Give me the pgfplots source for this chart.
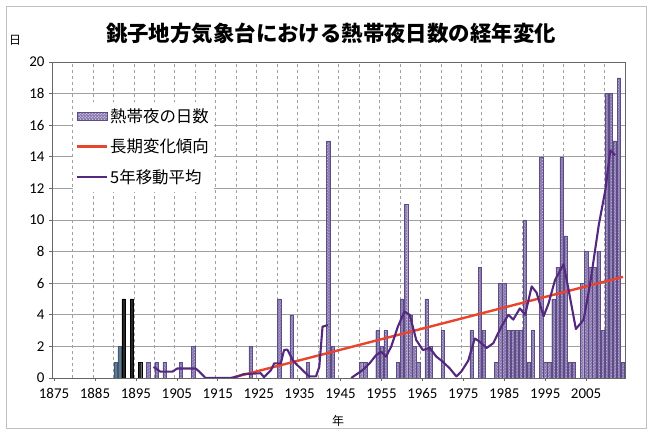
\documentclass[border=0pt]{standalone}
\usepackage{fontspec}
\setmainfont{Carlito}
\newfontfamily\jp{Noto Sans CJK JP}
\usepackage{pgfplots}
\usepackage{pgfplotstable}
\pgfplotsset{compat=1.18}
\usetikzlibrary{patterns}
\definecolor{barfill}{HTML}{8878AE}
\definecolor{baredge}{HTML}{5E4C86}
\definecolor{trend}{HTML}{E8452C}
\definecolor{mavg}{HTML}{55287F}
\definecolor{gridc}{HTML}{A0A0A0}
\definecolor{oldblue}{HTML}{5F7C96}

\pgfplotsset{
  lineleg/.style={legend image code/.code={\draw[##1] (0bp,0bp) -- (30bp,0bp);}},
  barleg/.style={legend image code/.code={\fill[barfill] (0bp,-4bp) rectangle (30bp,4bp);
     \fill[pattern=crosshatch dots, pattern color=white!60!barfill] (0bp,-4bp) rectangle (30bp,4bp);}},
}

\pgfplotstableread{
year val
1898 1
1900 1
1902 1
1906 1
1909 2
1923 2
1930 5
1933 4
1937 1
1942 15
1943 2
1950 1
1951 1
1954 3
1955 2
1956 3
1959 1
1960 5
1961 11
1962 4
1963 2
1964 1
1966 5
1967 2
1970 3
1977 3
1979 7
1980 3
1983 1
1984 6
1985 6
1986 3
1987 3
1988 3
1989 3
1990 10
1991 1
1992 3
1994 14
1995 1
1996 1
1997 5
1998 7
1999 14
2000 9
2001 1
2002 1
2004 6
2005 8
2006 7
2007 7
2008 8
2009 3
2010 18
2011 18
2012 15
2013 19
2014 1
}\days

\pgfplotstableread{
year val
1899.3 0.7
1901.0 0.4
1903.9 0.4
1905.1 0.6
1909.6 0.6
1910.5 0.4
1912.0 0
1918.1 0
1919.8 0.1
1921.4 0.25
1925.5 0.3
1926.3 0.05
1928.0 0.5
1928.8 0.93
1930.4 0.93
1931.2 1.77
1932.0 1.8
1933.3 1.14
1934.1 0.9
1935.7 0.5
1937.3 0.1
1939.0 0.1
1939.8 0.7
1940.6 3.25
1941.9 3.35
1944 nan
1947.6 0
1950.4 0.5
1952.1 0.93
1953.7 1.45
1954.9 1.66
1956.1 1.35
1957.4 2.0
1959.0 3.25
1960.6 4.2
1961.9 4.0
1963.5 2.4
1965.1 1.77
1966.8 1.9
1968.4 1.35
1970.0 1.03
1971.7 0.6
1973.3 0.1
1974.5 0.4
1976.2 1.1
1977.8 2.5
1979.0 2.3
1980.7 1.9
1982.3 2.2
1984.3 3.25
1986.0 4.0
1987.2 3.7
1988.8 4.4
1990.1 4.0
1991.7 5.8
1992.9 5.4
1994.6 3.9
1995.8 4.7
1997.4 6.2
1999.5 7.2
2000.7 5.6
2002.5 3.1
2004.4 3.7
2006.0 6.0
2008.1 9.7
2009.7 11.9
2010.9 14.4
2012.1 14.1
}\mavg

\begin{document}
\begin{tikzpicture}[x=1bp,y=1bp]
\path (-52,-55) rectangle (600,378);
\draw[gray!50, line width=0.7bp] (-46,-50) rectangle (594,372);
\node[font=\jp\bfseries\fontsize{21.5}{21.5}\selectfont] at (279,345) {銚子地方気象台における熱帯夜日数の経年変化};
\node[font=\jp\fontsize{12}{12}\selectfont] at (-37,338) {日};
\node[font=\jp\fontsize{12}{12}\selectfont] at (286,-43) {年};
\begin{axis}[
  at={(0,0)}, anchor=south west,
  width=573bp, height=316bp, scale only axis,
  xmin=1874.5, xmax=2014.5, ymin=0, ymax=20,
  xtick={1875,1885,...,2005},
  minor xtick={1879.5,1884.5,...,2009.5},
  ytick={0,2,...,20},
  ymajorgrids, xminorgrids,
  major grid style={gridc, line width=0.6bp},
  minor grid style={gridc, dashed, line width=0.6bp},
  axis line style={gray!80!black, line width=0.6bp},
  tick style={gray!80!black, line width=0.6bp},
  major tick length=3bp, minor tick length=0bp,
  tick align=outside,
  xtick pos=bottom, ytick pos=left,
  tick label style={font=\fontsize{15}{15}\selectfont},
  xticklabel style={yshift=-4bp},
  yticklabel style={xshift=-1bp},
  /pgf/number format/assume math mode=true,
  /pgf/number format/1000 sep={},
  unbounded coords=jump,
  legend style={at={(0.036,0.875)}, anchor=north west, draw=none, fill=white,
    font=\jp\fontsize{16.5}{16.5}\selectfont, row sep=11bp, inner xsep=3bp, inner ysep=5bp},
  legend cell align=left,
]
\addplot[ybar, bar width=0.82, bar shift=0pt, fill=barfill, draw=baredge, line width=0.35bp,
  postaction={pattern=crosshatch dots, pattern color=white!60!barfill}, barleg]
  table[x=year, y=val] {\days};
\addlegendentry{熱帯夜の日数}
\addplot[ybar, bar width=0.82, bar shift=0pt, fill=oldblue, draw=oldblue!70!black, line width=0.35bp, forget plot]
  coordinates {(1890,1) (1891,2)};
\addplot[ybar, bar width=0.82, bar shift=0pt, fill=black!85, draw=black, line width=0.35bp, forget plot]
  coordinates {(1892,5) (1894,5) (1896,1)};
\addplot[trend, line width=2.4bp, no markers, lineleg]
  coordinates {(1919,0.05) (2014,6.4)};
\addlegendentry{長期変化傾向}
\addplot[mavg, line width=2.1bp, no markers, line join=round, lineleg]
  table[x=year, y=val] {\mavg};
\addlegendentry{5年移動平均}
\end{axis}
\end{tikzpicture}
\end{document}
